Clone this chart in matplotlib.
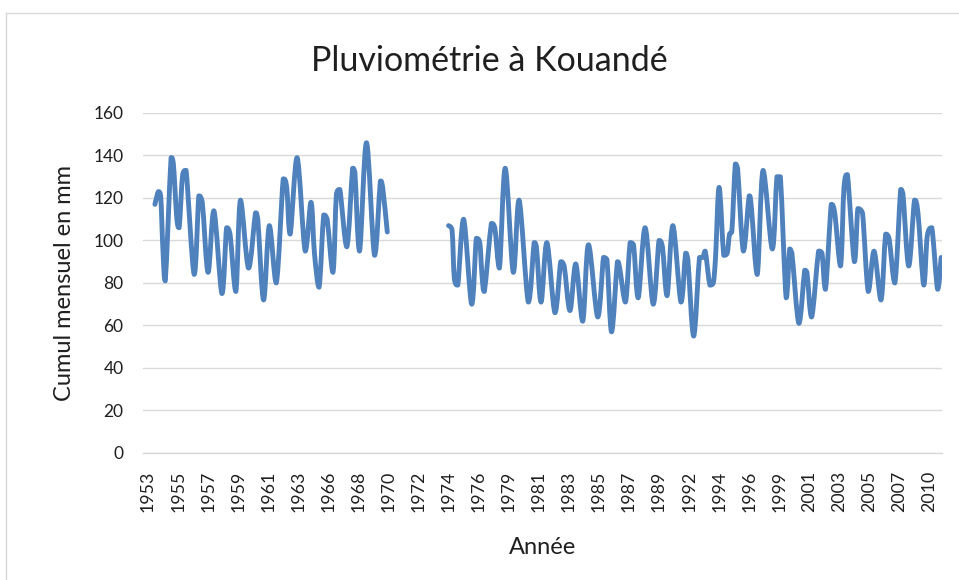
import matplotlib
matplotlib.use("Agg")
import matplotlib.pyplot as plt
from matplotlib.path import Path
from matplotlib.patches import PathPatch
from matplotlib.lines import Line2D

# Monthly rainfall totals at Kouandé (mm), month index counted from January 1953.
# Two recorded periods separated by a gap in the record.
mois_1 = [6, 9, 11, 13, 15, 20, 22, 25, 27, 30, 33, 40, 44, 47, 52, 57, 64, 68, 71,
          76, 80, 87, 93, 95, 100, 105, 111, 117, 120, 123, 129, 136, 141, 144, 148,
          152, 155, 160, 163, 166, 172, 177, 179, 183, 189, 196, 201, 203, 207]
pluie_1 = [117, 123, 121, 95, 81, 139, 136, 110, 106, 131, 133, 84, 121, 118, 85,
           114, 75, 106, 103, 76, 119, 87, 113, 110, 72, 107, 80, 129, 125, 103, 139,
           95, 118, 94, 78, 112, 110, 85, 122, 124, 97, 134, 132, 95, 146, 93, 128,
           125, 104]

mois_2 = [260, 263, 265, 268, 273, 280, 284, 287, 289, 291, 297, 300, 304, 309, 316,
          321, 329, 334, 336, 340, 345, 352, 357, 360, 365, 370, 376, 381, 389, 394,
          397, 401, 406, 408, 413, 417, 420, 424, 430, 437, 442, 445, 449, 454, 461,
          465, 467, 472, 477, 480, 482, 486, 489, 491, 494, 498, 501, 503, 505, 508,
          510, 515, 520, 522, 527, 532, 540, 544, 547, 552, 555, 557, 563, 568, 570,
          574, 580, 583, 586, 591, 594, 599, 602, 605, 611, 614, 618, 623, 628, 634,
          638, 641, 646, 651, 653, 658, 663, 666, 671, 674, 678, 683, 686]
pluie_2 = [107, 105, 82, 79, 110, 70, 101, 99, 83, 76, 108, 106, 87, 134, 85, 119, 71,
           99, 97, 71, 99, 66, 90, 88, 67, 89, 62, 98, 64, 92, 91, 57, 90, 87, 71, 99,
           98, 73, 106, 70, 100, 97, 74, 107, 71, 94, 91, 55, 92, 92, 95, 79, 80, 93,
           125, 93, 94, 103, 104, 136, 134, 95, 121, 115, 84, 133, 96, 130, 130, 73,
           96, 94, 61, 86, 85, 64, 95, 94, 77, 117, 113, 88, 125, 131, 90, 115, 113,
           76, 95, 72, 103, 101, 80, 124, 122, 88, 119, 113, 79, 102, 106, 77, 92]

annees = ["1953", "1955", "1957", "1959", "1961", "1963", "1966", "1968", "1970",
          "1972", "1974", "1976", "1979", "1981", "1983", "1985", "1987", "1989",
          "1992", "1994", "1996", "1999", "2001", "2003", "2005", "2007", "2010"]
pas_etiquette = 26  # months between two year labels
graduations_y = [0, 20, 40, 60, 80, 100, 120, 140, 160]

BLEU = "#4F81BD"
GRILLE = "#D9D9D9"
TEXTE = "#1F1F1F"


def courbe_lissee(x, y):
    """Smoothed polyline: cubic Bezier segments whose control points stay
    within each segment's vertical range (no overshoot at peaks)."""
    pts = list(zip(x, y))
    verts = [pts[0]]
    codes = [Path.MOVETO]
    n = len(pts)
    for i in range(n - 1):
        p0 = pts[i - 1] if i > 0 else pts[i]
        p1 = pts[i]
        p2 = pts[i + 1]
        p3 = pts[i + 2] if i + 2 < n else pts[i + 1]
        lo, hi = min(p1[1], p2[1]), max(p1[1], p2[1])
        c1y = min(max(p1[1] + (p2[1] - p0[1]) / 6.0, lo), hi)
        c2y = min(max(p2[1] - (p3[1] - p1[1]) / 6.0, lo), hi)
        c1 = (p1[0] + (p2[0] - p0[0]) / 6.0, c1y)
        c2 = (p2[0] - (p3[0] - p1[0]) / 6.0, c2y)
        verts += [c1, c2, p2]
        codes += [Path.CURVE4] * 3
    return Path(verts, codes)


plt.rcParams["font.family"] = ["Lato", "DejaVu Sans"]

fig = plt.figure(figsize=(9.59, 5.80), dpi=100)
ax = fig.add_axes([0.1491, 0.219, 0.8332, 0.5862])

for xs, ys in ((mois_1, pluie_1), (mois_2, pluie_2)):
    ax.add_patch(PathPatch(courbe_lissee(xs, ys), facecolor="none", edgecolor=BLEU,
                           linewidth=3.5, joinstyle="round", capstyle="round",
                           zorder=3))
    # invisible line so the axes know the data
    ax.plot(xs, ys, alpha=0)

ax.set_xlim(-4.3, 686.8)
ax.set_ylim(0, 160)
ax.set_yticks(graduations_y)
ax.set_xticks([i * pas_etiquette for i in range(len(annees))])
ax.set_xticklabels(annees, rotation=90, fontsize=12.8, color=TEXTE)
ax.tick_params(axis="y", labelsize=12.5, labelcolor=TEXTE, length=0, pad=14)
ax.tick_params(axis="x", length=0, pad=13)

ax.grid(axis="y", color=GRILLE, linewidth=1.0, zorder=0)
ax.set_axisbelow(True)
for side in ("top", "right", "left"):
    ax.spines[side].set_visible(False)
ax.spines["bottom"].set_color(GRILLE)
ax.spines["bottom"].set_linewidth(1.0)

ax.set_ylabel("Cumul mensuel en mm", fontsize=17, color=TEXTE, labelpad=13)
ax.set_xlabel("Année", fontsize=17, color=TEXTE, labelpad=18)
fig.text(0.51, 0.895, "Pluviométrie à Kouandé", ha="center", va="center",
         fontsize=24.5, color=TEXTE)

# chart frame
fig.add_artist(Line2D([6 / 959, 1], [1 - 13 / 580, 1 - 13 / 580],
                      transform=fig.transFigure, color=GRILLE, linewidth=1.0))
fig.add_artist(Line2D([6 / 959, 6 / 959], [0, 1 - 13 / 580],
                      transform=fig.transFigure, color=GRILLE, linewidth=1.0))

fig.savefig("out.png", dpi=100)
